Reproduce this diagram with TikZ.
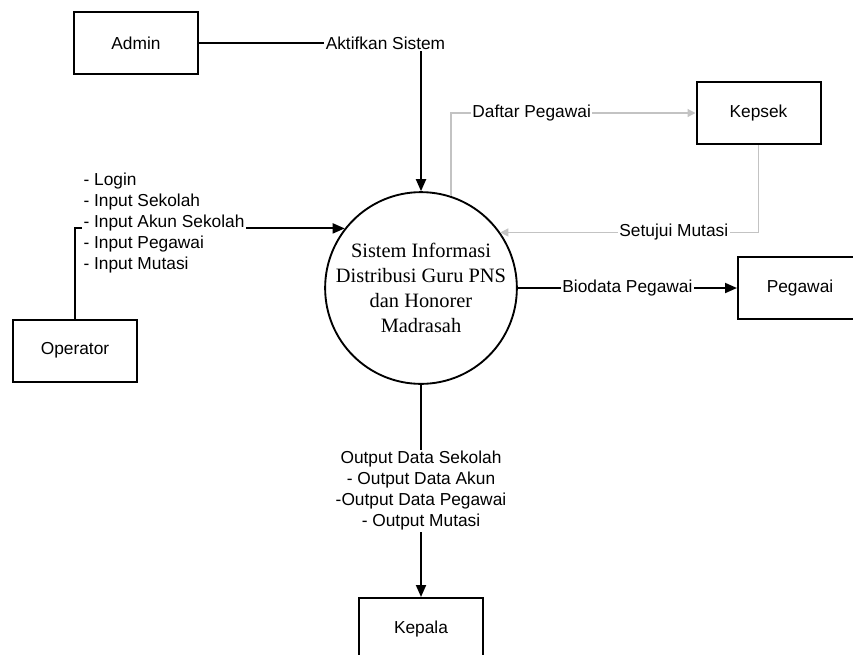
\documentclass[tikz,border=0pt]{standalone}
\usepackage{fontspec}
\setmainfont{Liberation Sans}
\newfontfamily\circfont{Liberation Serif}
\usepackage{xcolor}
\usetikzlibrary{arrows.meta}
\definecolor{flowgray}{RGB}{195,195,195}

\begin{document}
\begin{tikzpicture}[
  x=0.75pt, y=-0.75pt,
  font=\fontsize{13}{15.75}\selectfont,
  entity/.style={draw, line width=1.5pt, minimum width=93pt, minimum height=46.5pt, inner sep=0pt},
  process/.style={draw, circle, line width=1.4pt, minimum size=138pt, inner sep=0pt,
    align=center, font=\circfont\fontsize{15.3}{18.75}\selectfont},
  flow/.style={line width=1.4pt, -{Triangle[length=9pt,width=7.5pt]}},
  lightflow/.style={draw=flowgray, line width=0.9pt, -{Triangle[length=6pt,width=6pt]}},
  lbl/.style={fill=white, inner sep=1pt}
]
  \useasboundingbox (0,0) rectangle (853,654);
  \clip (0,0) rectangle (853,654);
  \node[process] (sis) at (421,288) {Sistem Informasi\\ Distribusi Guru PNS\\ dan Honorer\\ Madrasah};
  \node[entity] (admin) at (136,43) {Admin};
  \node[entity] (oper) at (75,350.5) {Operator};
  \node[entity] (kepsek) at (758.5,113) {Kepsek};
  \node[entity] (pegawai) at (800,288) {Pegawai};
  \node[entity] (kepala) at (421,629) {Kepala};
  \draw[flow] (admin.east) -| node[lbl, pos=0.42] {Aktifkan Sistem} (sis.north);
  \draw[flow] (oper.north) |- node[lbl, pos=0.665, yshift=4pt, align=left]
    {- Login\\ - Input Sekolah\\ - Input Akun Sekolah\\ - Input Pegawai\\ - Input Mutasi} (sis.142);
  \draw[lightflow] (sis.72) |- node[lbl, pos=0.665] {Daftar Pegawai} (kepsek.west);
  \draw[lightflow] (kepsek.south) |- node[lbl, pos=0.664] {Setujui Mutasi} (sis.35);
  \draw[flow] (sis.east) -- node[lbl] {Biodata Pegawai} (pegawai.west);
  \draw[flow] (sis.south) -- node[lbl, align=center]
    {Output Data Sekolah\\ - Output Data Akun\\ -Output Data Pegawai\\ - Output Mutasi} (kepala.north);
\end{tikzpicture}
\end{document}
